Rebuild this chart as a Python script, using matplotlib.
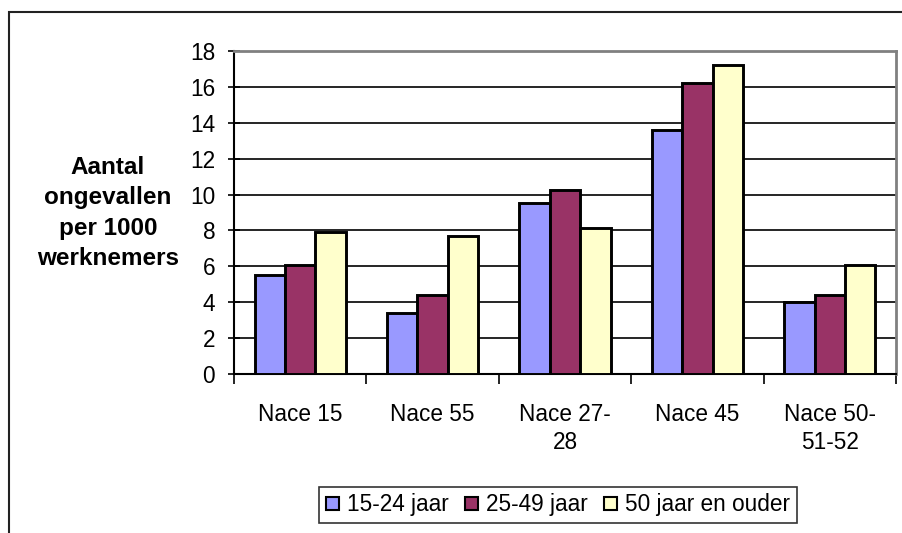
import numpy as np
import matplotlib
matplotlib.use('Agg')
import matplotlib.pyplot as plt
from matplotlib.patches import Patch, Rectangle

# gegevens
categorieen = ['Nace 15', 'Nace 55', 'Nace 27-\n28', 'Nace 45', 'Nace 50-\n51-52']
jong = [5.5, 3.4, 9.55, 13.6, 4.0]
midden = [6.1, 4.4, 10.25, 16.2, 4.4]
oud = [7.9, 7.7, 8.15, 17.2, 6.05]
reeksen = ['15-24 jaar', '25-49 jaar', '50 jaar en ouder']
kleuren = ['#9999FF', '#993366', '#FFFFCC']
y_ticks = [0, 2, 4, 6, 8, 10, 12, 14, 16, 18]

plt.rcParams['font.family'] = ['Liberation Sans', 'DejaVu Sans']
fs = 16.3

W, H = 902, 533
fig = plt.figure(figsize=(W / 100, H / 100), dpi=100)
ax = fig.add_axes([234 / W, 1 - 374 / H, (896 - 234) / W, (374 - 51) / H])

x = np.arange(len(categorieen))
breedte = 0.23
for i, (waarden, kleur) in enumerate(zip([jong, midden, oud], kleuren)):
    ax.bar(x + (i - 1) * breedte, waarden, breedte, color=kleur,
           edgecolor='black', linewidth=2.1, zorder=3)

ax.set_xlim(-0.5, len(categorieen) - 0.5)
ax.set_ylim(0, 18)
ax.set_yticks(y_ticks)
ax.set_yticklabels([str(t) for t in y_ticks], fontsize=fs)
ax.tick_params(axis='y', direction='inout', length=9, width=1.2, pad=9)

ax.set_xticks(x)
ax.set_xticklabels(categorieen, fontsize=fs, linespacing=1.25)
ax.set_xticks(np.arange(len(categorieen) + 1) - 0.5, minor=True)
ax.tick_params(axis='x', which='major', length=0, pad=21)
ax.tick_params(axis='x', which='minor', direction='out', length=7, width=1.2)

ax.yaxis.grid(True, color='black', linewidth=1.2)
ax.set_axisbelow(True)
for s in ['top', 'right']:
    ax.spines[s].set_color('#808080')
    ax.spines[s].set_linewidth(2)
for s in ['left', 'bottom']:
    ax.spines[s].set_color('black')
    ax.spines[s].set_linewidth(1.5)

fig.text(108 / W, 1 - 213 / H, 'Aantal\nongevallen\nper 1000\nwerknemers',
         ha='center', va='center', multialignment='center',
         fontsize=17.5, fontweight='bold', linespacing=1.42)

handles = [Patch(facecolor=k, edgecolor='black', linewidth=1.5) for k in kleuren]
leg = fig.legend(handles, reeksen, loc='center', bbox_to_anchor=(558 / W, 1 - 505 / H),
                 ncol=3, fontsize=fs, frameon=True, fancybox=False,
                 handlelength=0.55, handleheight=0.55, handletextpad=0.35,
                 columnspacing=0.75, borderpad=0.3, borderaxespad=0)
leg.get_frame().set_edgecolor('black')
leg.get_frame().set_linewidth(1.2)

# kader rond de grafiek
fig.add_artist(Rectangle((9 / W, -0.1), 1.2, 1.1 - 12 / H, transform=fig.transFigure,
                         fill=False, edgecolor='#222222', linewidth=1.5))

fig.savefig('out.png', dpi=100)
